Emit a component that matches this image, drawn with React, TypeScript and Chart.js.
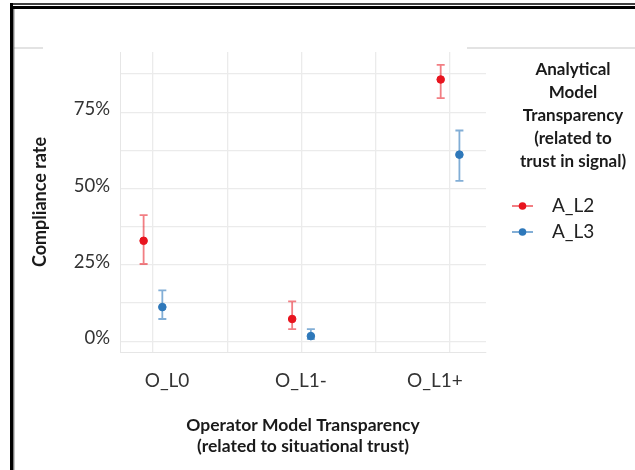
import React, { useEffect, useRef } from "react";
import { Chart, registerables } from "chart.js";

Chart.register(...registerables);

const categories = ["O_L0", "O_L1-", "O_L1+"];
const seriesNames = ["A_L2", "A_L3"];
const aL2 = [32.9, 7.3, 85.7];
const aL2Low = [25.3, 4.0, 79.6];
const aL2High = [41.3, 13.1, 90.5];
const aL3 = [11.2, 1.7, 61.1];
const aL3Low = [7.3, 0.7, 52.5];
const aL3High = [16.7, 4.0, 69.0];
const yTickValues = [0, 12.5, 25, 37.5, 50, 62.5, 75, 87.5];
const yLabelValues = [0, 25, 50, 75];
const legendTitle = ["Analytical", "Model", "Transparency", "(related to", "trust in signal)"];
const xTitle = ["Operator Model Transparency", "(related to situational trust)"];
const yTitle = "Compliance rate";

const RED = "#e8141e";
const RED_BAR = "rgba(232,20,30,0.55)";
const BLUE = "#2e78ba";
const BLUE_BAR = "rgba(46,120,186,0.6)";
const FONT = "Lato";
const DODGE = 0.063;

export default function App() {
  const ref = useRef<HTMLCanvasElement>(null);

  useEffect(() => {
    document.body.style.margin = "0";
    document.body.style.overflow = "hidden";
    const canvas = ref.current;
    if (!canvas) return;

    const errors = [
      { low: aL2Low, high: aL2High, color: RED_BAR },
      { low: aL3Low, high: aL3High, color: BLUE_BAR },
    ];

    const decor = {
      id: "decor",
      beforeDraw(chart: any) {
        const ctx = chart.ctx;
        ctx.save();
        ctx.fillStyle = "#ffffff";
        ctx.fillRect(0, 0, chart.width, chart.height);
        ctx.strokeStyle = "#dadada";
        ctx.lineWidth = 1.5;
        ctx.beginPath();
        ctx.moveTo(14, 48);
        ctx.lineTo(43, 48);
        ctx.moveTo(467, 48);
        ctx.lineTo(635, 48);
        ctx.stroke();
        ctx.strokeStyle = "#000000";
        ctx.lineWidth = 1.5;
        ctx.beginPath();
        ctx.moveTo(10, 4);
        ctx.lineTo(635, 4);
        ctx.stroke();
        ctx.lineWidth = 3;
        ctx.beginPath();
        ctx.moveTo(10, 7.5);
        ctx.lineTo(635, 7.5);
        ctx.stroke();
        ctx.beginPath();
        ctx.moveTo(11.5, 3);
        ctx.lineTo(11.5, 470);
        ctx.stroke();
        ctx.strokeStyle = "#444";
        ctx.lineWidth = 1;
        ctx.beginPath();
        ctx.moveTo(13.8, 9);
        ctx.lineTo(13.8, 470);
        ctx.stroke();
        ctx.restore();
      },
      beforeDatasetsDraw(chart: any) {
        const ctx = chart.ctx;
        const xs = chart.scales.x;
        const ys = chart.scales.y;
        ctx.save();
        chart.data.datasets.forEach((ds: any, di: number) => {
          const e = errors[di];
          ctx.strokeStyle = e.color;
          ctx.lineWidth = 1.8;
          ds.data.forEach((pt: any, i: number) => {
            const px = xs.getPixelForValue(pt.x);
            const y1 = ys.getPixelForValue(e.low[i]);
            const y2 = ys.getPixelForValue(e.high[i]);
            ctx.beginPath();
            ctx.moveTo(px, y1);
            ctx.lineTo(px, y2);
            ctx.moveTo(px - 4, y1);
            ctx.lineTo(px + 4, y1);
            ctx.moveTo(px - 4, y2);
            ctx.lineTo(px + 4, y2);
            ctx.stroke();
          });
        });
        ctx.restore();
      },
      afterDraw(chart: any) {
        const ctx = chart.ctx;
        ctx.save();
        ctx.fillStyle = "#1a1a1a";
        ctx.textAlign = "center";
        ctx.textBaseline = "middle";
        ctx.font = `bold 17px ${FONT}`;
        legendTitle.forEach((t, i) => ctx.fillText(t, 573, 70 + i * 23));
        chart.data.datasets.forEach((ds: any, di: number) => {
          const y = 206 + di * 26;
          ctx.strokeStyle = errors[di].color;
          ctx.lineWidth = 2;
          ctx.beginPath();
          ctx.moveTo(512, y);
          ctx.lineTo(533, y);
          ctx.stroke();
          ctx.fillStyle = ds.backgroundColor;
          ctx.beginPath();
          ctx.arc(522.5, y, 3.8, 0, Math.PI * 2);
          ctx.fill();
          ctx.fillStyle = "#222";
          ctx.textAlign = "left";
          ctx.font = `19px ${FONT}`;
          ctx.fillText(ds.label, 552, y);
        });
        ctx.restore();
      },
    };

    const chart = new Chart(canvas, {
      type: "scatter",
      data: {
        datasets: [
          {
            label: seriesNames[0],
            data: aL2.map((v, i) => ({ x: i - DODGE, y: v })),
            backgroundColor: RED,
            borderColor: RED,
            pointRadius: 3.8,
            showLine: false,
          },
          {
            label: seriesNames[1],
            data: aL3.map((v, i) => ({ x: i + DODGE, y: v })),
            backgroundColor: BLUE,
            borderColor: BLUE,
            pointRadius: 3.8,
            showLine: false,
          },
        ],
      },
      options: {
        animation: false,
        responsive: false,
        devicePixelRatio: 1,
        layout: { padding: { left: 15, top: 52, right: 149, bottom: 0 } },
        plugins: { legend: { display: false }, tooltip: { enabled: false } },
        scales: {
          x: {
            type: "linear",
            position: "bottom",
            min: -0.222,
            max: 2.242,
            afterBuildTicks: (s: any) => {
              s.ticks = [0, 0.5, 1, 1.5, 2].map((v) => ({ value: v }));
            },
            afterFit: (s: any) => {
              s.height = 0;
            },
            ticks: { display: false },
            grid: { color: "#ebebeb", lineWidth: 1.3, drawTicks: false },
            border: { display: true, color: "#e6e6e6", width: 1 },
          },
          xl: {
            type: "linear",
            position: "bottom",
            min: -0.351,
            max: 2.381,
            afterBuildTicks: (s: any) => {
              s.ticks = categories.map((_, i) => ({ value: i }));
            },
            afterFit: (s: any) => {
              s.height = 118;
            },
            ticks: {
              callback: (v: any) => categories[Math.round(Number(v))],
              font: { family: FONT, size: 19 },
              color: "#333",
              padding: 17,
              maxRotation: 0,
            },
            grid: { display: false, drawTicks: false },
            border: { display: false },
            title: {
              display: true,
              text: xTitle,
              font: { family: FONT, size: 17.5, weight: "bold", lineHeight: 1.2 },
              color: "#1a1a1a",
              padding: { top: 0, bottom: 13 },
            },
          },
          y: {
            type: "linear",
            min: -3.5,
            max: 94.7,
            afterBuildTicks: (s: any) => {
              s.ticks = yTickValues.map((v) => ({ value: v }));
            },
            afterFit: (s: any) => {
              s.width = 105;
            },
            ticks: {
              callback: (v: any) => (yLabelValues.includes(Number(v)) ? `${v}%` : ""),
              font: { family: FONT, size: 18.5 },
              color: "#333",
              padding: 10,
              labelOffset: -3,
            },
            grid: { color: "#ebebeb", lineWidth: 1.3, drawTicks: false },
            border: { display: true, color: "#e6e6e6", width: 1 },
            title: {
              display: true,
              text: yTitle,
              font: { family: FONT, size: 18, weight: "bold" },
              color: "#1a1a1a",
              padding: { top: 14, bottom: 0 },
            },
          },
        },
      },
      plugins: [decor],
    });

    return () => chart.destroy();
  }, []);

  return (
    <div style={{ width: 635, height: 470 }}>
      <canvas ref={ref} width={635} height={470} style={{ display: "block" }} />
    </div>
  );
}
